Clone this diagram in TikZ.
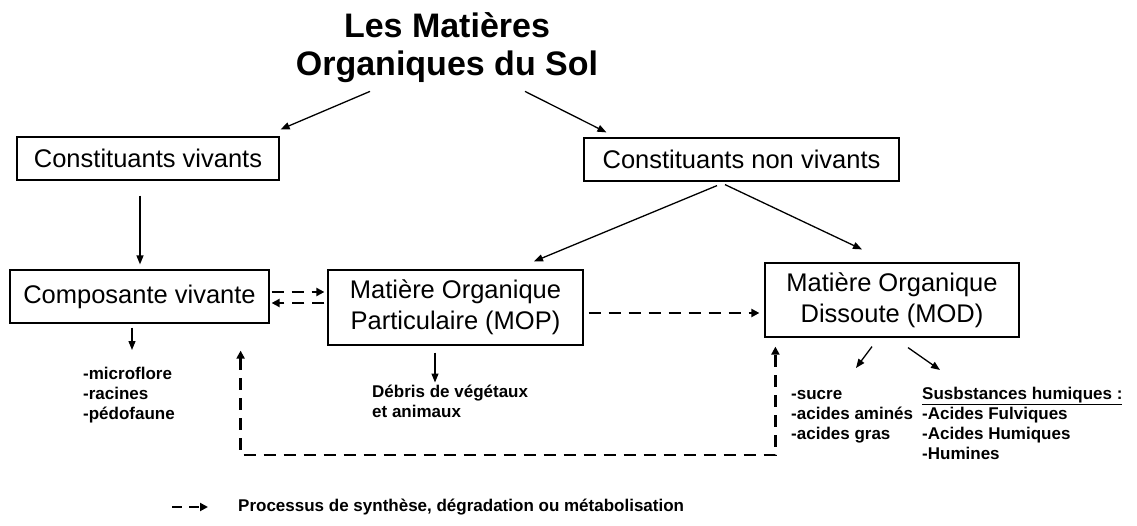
\documentclass[tikz,border=0pt]{standalone}
\usepackage{fontspec}
\setmainfont{Liberation Sans}
\usetikzlibrary{arrows.meta,calc}

\begin{document}
\begin{tikzpicture}[x=1pt,y=-1pt,
	boite/.style={draw,line width=1.2pt,inner sep=0pt,align=center,font=\fontsize{25.5}{31}\selectfont},
	liste/.style={inner sep=0pt,align=left,anchor=north west,font=\bfseries\fontsize{17}{20}\selectfont},
	fleche/.style={line width=1.3pt,-{Triangle[length=9pt,width=7pt]}},
	tiret/.style={line width=2.8pt,dash pattern=on 12pt off 8pt,-{Triangle[length=8pt,width=8pt]}},
	deuxpointes/.style={{Triangle[length=8pt,width=8pt]}-{Triangle[length=8pt,width=8pt]}}]
	\useasboundingbox[fill=white] (0,0) rectangle (1137,526);
	\node[font=\bfseries\fontsize{34}{38}\selectfont,align=center,inner sep=0pt,anchor=north] (titre) at (447,10.4)
	{\strut Les Matières\\\strut Organiques du Sol};
	% boites
	\node[boite,minimum width=262pt,minimum height=43pt] (cv) at (148,158.5) {Constituants vivants};
	\node[boite,minimum width=315pt,minimum height=43pt] (cnv) at (741.5,159.5) {Constituants non vivants};
	\node[boite,minimum width=259pt,minimum height=53pt] (comp) at (139.5,296.5) {Composante vivante};
	\node[boite,minimum width=255pt,minimum height=75pt] (mop) at (455.5,307.5) {Matière Organique\\Particulaire (MOP)};
	\node[boite,minimum width=254pt,minimum height=74pt] (mod) at (892,300) {Matière Organique\\Dissoute (MOD)};
	% listes
	\node[liste] (vivs) at (83,365.5) {\strut-microflore\\\strut-racines\\\strut-pédofaune};
	\node[liste] (debris) at (372,383.5) {\strut Débris de végétaux\\\strut et animaux};
	\node[liste] (sucres) at (791,385.5) {\strut-sucre\\\strut-acides aminés\\\strut-acides gras};
	\node[liste] (humiques) at (922,385.5)
	{\strut\underline{Susbstances humiques :}\\\strut-Acides Fulviques\\\strut-Acides Humiques\\\strut-Humines};
	% fleches pleines
	\draw[fleche] ([xshift=-77pt,yshift=-4.6pt]titre.south) -- ([xshift=1pt,yshift=7pt]cv.north east);
	\draw[fleche] ([xshift=78pt,yshift=-4.6pt]titre.south) -- ([xshift=23pt,yshift=5pt]cnv.north west);
	\draw[fleche] ([xshift=-8pt,yshift=-15pt]cv.south) -- ([xshift=0.5pt,yshift=5pt]comp.north);
	\draw[fleche] ([xshift=-24.5pt,yshift=-4pt]cnv.south) -- ([xshift=78.5pt,yshift=8pt]mop.north);
	\draw[fleche] ([xshift=-16.5pt,yshift=-3pt]cnv.south) -- ([xshift=-30pt,yshift=13pt]mod.north);
	\draw[fleche] ([xshift=-7.5pt,yshift=-4pt]comp.south) -- ([xshift=-7.5pt,yshift=15.5pt]comp.south |- vivs.north);
	\draw[fleche] ([xshift=-20.5pt,yshift=-7pt]mop.south) -- ([xshift=-20.5pt,yshift=1pt]mop.south |- debris.north);
	\draw[fleche] ([xshift=-20pt,yshift=-9pt]mod.south) -- ([xshift=65pt,yshift=17.5pt]sucres.north west);
	\draw[fleche] ([xshift=16pt,yshift=-10pt]mod.south) -- ([xshift=18pt,yshift=15.5pt]humiques.north west);
	% processus
	\draw[tiret] ([xshift=2pt,yshift=4.5pt]comp.east) -- ([xshift=-3pt,yshift=4.5pt]comp.east -| mop.west);
	\draw[tiret] ([xshift=-3pt,yshift=-6.5pt]comp.east -| mop.west) -- ([xshift=2pt,yshift=-6.5pt]comp.east);
	\draw[tiret] ([xshift=5pt,yshift=-5.5pt]mop.east) -- ([xshift=-5pt,yshift=-5.5pt]mop.east -| mod.west);
	\coordinate (bas) at (500,455);
	\draw[tiret,deuxpointes] ([xshift=-29pt,yshift=-27pt]comp.south east) -- ([xshift=-29pt]comp.south east |- bas)
	-- ([xshift=11pt]mod.south west |- bas) -- ([xshift=11pt,yshift=-9pt]mod.south west);
	% legende
	\node[anchor=west,inner sep=0pt,font=\bfseries\fontsize{17}{20}\selectfont] (legende) at (238,507)
	{Processus de synthèse, dégradation ou métabolisation};
	\draw[tiret,line width=2pt,dash pattern=on 10pt off 7pt] ([xshift=-66pt]legende.west) -- ([xshift=-30pt]legende.west);
\end{tikzpicture}
\end{document}
